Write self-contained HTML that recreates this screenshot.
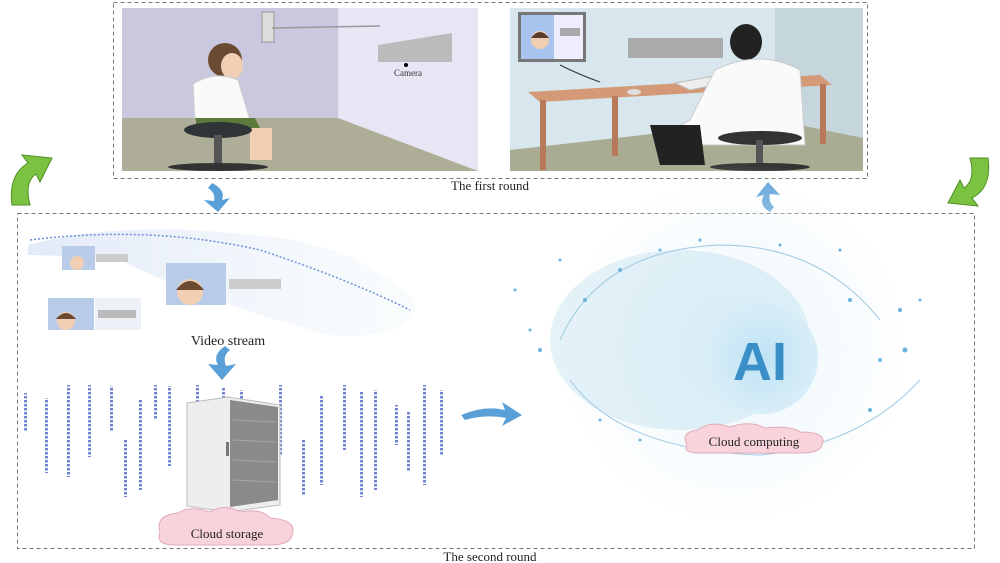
<!DOCTYPE html>
<html><head><meta charset="utf-8"><style>
html,body{margin:0;padding:0;background:#fff;}
svg{display:block;font-family:"Liberation Serif",serif;}
</style></head><body>
<svg width="1000" height="563" viewBox="0 0 1000 563" xmlns="http://www.w3.org/2000/svg">
<defs>
<radialGradient id="glob" cx="0.5" cy="0.5" r="0.5">
<stop offset="0" stop-color="#d9edf7" stop-opacity="0.8"/>
<stop offset="0.7" stop-color="#eef7fb" stop-opacity="0.5"/>
<stop offset="1" stop-color="#fff" stop-opacity="0"/>
</radialGradient>
<radialGradient id="aic" cx="0.5" cy="0.5" r="0.5">
<stop offset="0" stop-color="#bfe2f4"/>
<stop offset="1" stop-color="#d8eef8"/>
</radialGradient>
<linearGradient id="vs" x1="0" x2="1">
<stop offset="0" stop-color="#9fb6e8" stop-opacity="0.6"/>
<stop offset="1" stop-color="#c8e4f0" stop-opacity="0.2"/>
</linearGradient>
<pattern id="dat" width="4" height="4" patternUnits="userSpaceOnUse">
<rect width="4" height="2.5" fill="#5a70cc"/>
</pattern>
</defs>

<rect x="113.5" y="2.5" width="754" height="176" fill="none" stroke="#777" stroke-dasharray="4,3"/>
<rect x="122" y="8" width="356" height="163" fill="#e7e6f4"/>
<polygon points="122,8 338,8 338,118 122,118" fill="#c9c8de"/>
<polygon points="122,118 338,118 478,171 122,171" fill="#adad98"/>
<rect x="262" y="12" width="12" height="30" fill="#ddd" stroke="#999"/>
<line x1="272" y1="28" x2="380" y2="26" stroke="#999" stroke-width="1.5"/>
<polygon points="378,45 452,33 452,62 378,62" fill="#bbb"/>
<circle cx="406" cy="65" r="2" fill="#000"/>
<text x="408" y="76" font-size="9" text-anchor="middle" fill="#333">Camera</text>
<ellipse cx="225" cy="60" rx="17" ry="17" fill="#6b4a32"/>
<ellipse cx="232" cy="66" rx="11" ry="13" fill="#f2cfb4"/>
<path d="M193,84 Q215,70 238,80 L250,120 L195,122 Z" fill="#fafafa" stroke="#ccc"/>
<path d="M195,118 L255,118 L262,132 L198,134 Z" fill="#5c7a3c"/>
<rect x="250" y="128" width="22" height="32" fill="#f2cfb4"/>
<ellipse cx="218" cy="130" rx="34" ry="8" fill="#2f3436"/>
<rect x="214" y="135" width="8" height="28" fill="#555"/>
<ellipse cx="218" cy="167" rx="50" ry="4" fill="#333"/>
<rect x="510" y="8" width="353" height="163" fill="#d7e7ed"/>
<rect x="775" y="8" width="88" height="130" fill="#c6d6dd"/>
<polygon points="510,150 775,120 863,138 863,171 510,171" fill="#a9ab93"/>
<rect x="518" y="12" width="68" height="50" fill="#777"/>
<rect x="521" y="15" width="33" height="44" fill="#a7c3ee"/>
<rect x="554" y="15" width="29" height="44" fill="#eef"/>
<rect x="560" y="28" width="20" height="8" fill="#aaa"/>
<circle cx="540" cy="40" r="9" fill="#f2cfb4"/><path d="M531,38 Q540,26 549,38 Z" fill="#5a3c28"/>
<path d="M560,65 Q580,75 600,82" stroke="#333" fill="none"/>
<rect x="628" y="38" width="95" height="20" fill="#aaa"/>
<polygon points="528,92 820,75 832,85 540,102" fill="#d49a78"/>
<rect x="540" y="100" width="6" height="70" fill="#b8795a"/>
<rect x="612" y="96" width="6" height="60" fill="#b8795a"/>
<rect x="820" y="84" width="6" height="60" fill="#b8795a"/>
<polygon points="675,83 720,75 740,80 690,90" fill="#eee" stroke="#bbb"/>
<ellipse cx="634" cy="92" rx="7" ry="3" fill="#ddd"/>
<ellipse cx="746" cy="42" rx="16" ry="18" fill="#222"/>
<path d="M715,70 Q760,48 800,70 L805,145 L680,145 Q660,135 690,120 Z" fill="#fafafa" stroke="#ccc"/>
<path d="M650,125 L700,125 L705,165 L660,165 Z" fill="#222"/>
<ellipse cx="760" cy="138" rx="42" ry="7" fill="#333"/>
<rect x="756" y="140" width="7" height="25" fill="#555"/>
<ellipse cx="760" cy="167" rx="50" ry="4" fill="#333"/>
<text x="490" y="190" font-size="13" text-anchor="middle" fill="#222">The first round</text>

<path d="M12,205 Q8,175 28,163 L22,155 L52,158 L40,182 L36,174 Q24,182 30,205 Z" fill="#7cc242" stroke="#4f8f22"/>
<path d="M988,158 Q992,188 972,198 L978,206 L948,203 L960,180 L964,188 Q976,180 970,158 Z" fill="#7cc242" stroke="#4f8f22"/>
<path d="M212,183 Q226,190 222,200 L230,198 L218,212 L204,200 L214,201 Q216,193 208,188 Z" fill="#5aa0d8"/>
<path d="M770,212 Q758,205 764,195 L756,197 L768,182 L780,195 L770,194 Q768,202 774,207 Z" fill="#5aa0d8"/>
<path d="M225,346 Q212,355 218,365 L208,364 L222,380 L236,364 L226,366 Q222,356 230,350 Z" fill="#5aa0d8"/>
<path d="M461,415 Q485,405 505,410 L502,402 L522,415 L502,426 L506,418 Q486,414 465,420 Z" fill="#5aa0d8"/>

<rect x="17.5" y="213.5" width="957" height="335" fill="none" stroke="#777" stroke-dasharray="4,3"/>
<text x="490" y="561" font-size="13" text-anchor="middle" fill="#222">The second round</text>

<path d="M28,245 Q120,220 250,235 Q350,240 415,300 Q420,340 330,335 Q200,300 120,260 Q60,255 28,255 Z" fill="url(#vs)" opacity="0.5"/>
<path d="M30,240 Q150,225 260,250 Q350,280 410,310" stroke="#6f8fd8" stroke-width="1.5" fill="none" stroke-dasharray="2,2"/>
<rect x="62" y="246" width="33" height="24" fill="#b8cbe9"/><circle cx="77" cy="263" r="7" fill="#f2cfb4"/>
<rect x="96" y="254" width="32" height="8" fill="#ccc"/>
<rect x="166" y="263" width="60" height="42" fill="#b8cbe9"/><circle cx="190" cy="292" r="13" fill="#f2cfb4"/><path d="M176,290 Q190,272 204,290 Z" fill="#6a4a30"/>
<rect x="229" y="279" width="52" height="10" fill="#ccc"/>
<rect x="48" y="298" width="46" height="32" fill="#b8cbe9"/><circle cx="66" cy="321" r="9" fill="#f2cfb4"/><path d="M56,319 Q66,307 76,319 Z" fill="#6a4a30"/>
<rect x="95" y="298" width="46" height="32" fill="#eef0f8"/><rect x="98" y="310" width="38" height="8" fill="#bbb"/>
<text x="228" y="345" font-size="14" text-anchor="middle" fill="#222">Video stream</text>

<g fill="url(#dat)" opacity="0.85">
<rect x="24" y="393" width="3" height="38"/><rect x="45" y="398" width="3" height="75"/>
<rect x="67" y="385" width="3" height="92"/><rect x="88" y="385" width="3" height="72"/>
<rect x="110" y="386" width="3" height="45"/><rect x="124" y="440" width="3" height="57"/>
<rect x="139" y="400" width="3" height="90"/><rect x="154" y="385" width="3" height="35"/>
<rect x="168" y="386" width="3" height="80"/><rect x="196" y="385" width="3" height="100"/>
<rect x="222" y="387" width="3" height="70"/><rect x="240" y="390" width="3" height="70"/>
<rect x="279" y="385" width="3" height="70"/><rect x="302" y="440" width="3" height="55"/>
<rect x="320" y="395" width="3" height="90"/><rect x="343" y="385" width="3" height="65"/>
<rect x="360" y="392" width="3" height="105"/><rect x="374" y="390" width="3" height="100"/>
<rect x="395" y="405" width="3" height="40"/><rect x="407" y="412" width="3" height="60"/>
<rect x="423" y="385" width="3" height="100"/><rect x="440" y="390" width="3" height="65"/>
</g>
<polygon points="187,403 228,397 280,405 280,505 228,512 187,506" fill="#eeeeee" stroke="#bbb"/>
<polygon points="230,400 278,407 278,500 230,507" fill="#8a8a8c"/>
<g stroke="#a5a5a8" stroke-width="1">
<line x1="232" y1="420" x2="276" y2="422"/><line x1="232" y1="440" x2="276" y2="442"/>
<line x1="232" y1="460" x2="276" y2="462"/><line x1="232" y1="480" x2="276" y2="482"/></g>
<rect x="226" y="442" width="3" height="14" fill="#777"/>
<path d="M160,532 Q155,515 178,513 Q190,505 210,512 Q225,503 240,512 Q262,508 270,518 Q298,520 292,535 Q290,545 270,545 L175,545 Q155,545 160,532 Z" fill="#f9d3dc" stroke="#e2a9b8"/>
<text x="227" y="538" font-size="13" text-anchor="middle" fill="#222">Cloud storage</text>

<circle cx="735" cy="350" r="190" fill="url(#glob)" opacity="0.7"/>
<path d="M560,340 Q600,250 720,245 Q820,245 880,320" stroke="#9cc8e2" fill="none"/>
<path d="M570,380 Q620,450 760,455 Q860,445 920,380" stroke="#9cc8e2" fill="none"/>
<ellipse cx="680" cy="340" rx="130" ry="90" fill="#a9d3e9" opacity="0.3"/>
<circle cx="762" cy="358" r="56" fill="url(#aic)"/>
<text x="760" y="380" font-family="Liberation Sans,sans-serif" font-weight="bold" font-size="54" text-anchor="middle" fill="#3a8fc8">AI</text>
<g fill="#6bb3dc">
<circle cx="585" cy="300" r="2"/><circle cx="620" cy="270" r="2"/><circle cx="660" cy="250" r="1.5"/>
<circle cx="850" cy="300" r="2"/><circle cx="880" cy="360" r="2"/><circle cx="900" cy="310" r="2"/>
<circle cx="560" cy="260" r="1.5"/><circle cx="540" cy="350" r="2"/><circle cx="840" cy="250" r="1.5"/>
<circle cx="870" cy="410" r="2"/><circle cx="600" cy="420" r="1.5"/><circle cx="920" cy="300" r="1.5"/>
<circle cx="515" cy="290" r="1.5"/><circle cx="530" cy="330" r="1.5"/><circle cx="905" cy="350" r="2.5"/>
<circle cx="700" cy="240" r="1.5"/><circle cx="780" cy="245" r="1.5"/><circle cx="640" cy="440" r="1.5"/>
</g>
<path d="M687,445 Q680,432 698,430 Q710,420 730,427 Q750,420 765,428 Q790,425 800,432 Q828,432 822,445 Q820,453 800,453 L700,453 Q682,453 687,445 Z" fill="#f9d3dc" stroke="#e2a9b8"/>
<text x="754" y="446" font-size="13" text-anchor="middle" fill="#222">Cloud computing</text>
</svg>
</body></html>
